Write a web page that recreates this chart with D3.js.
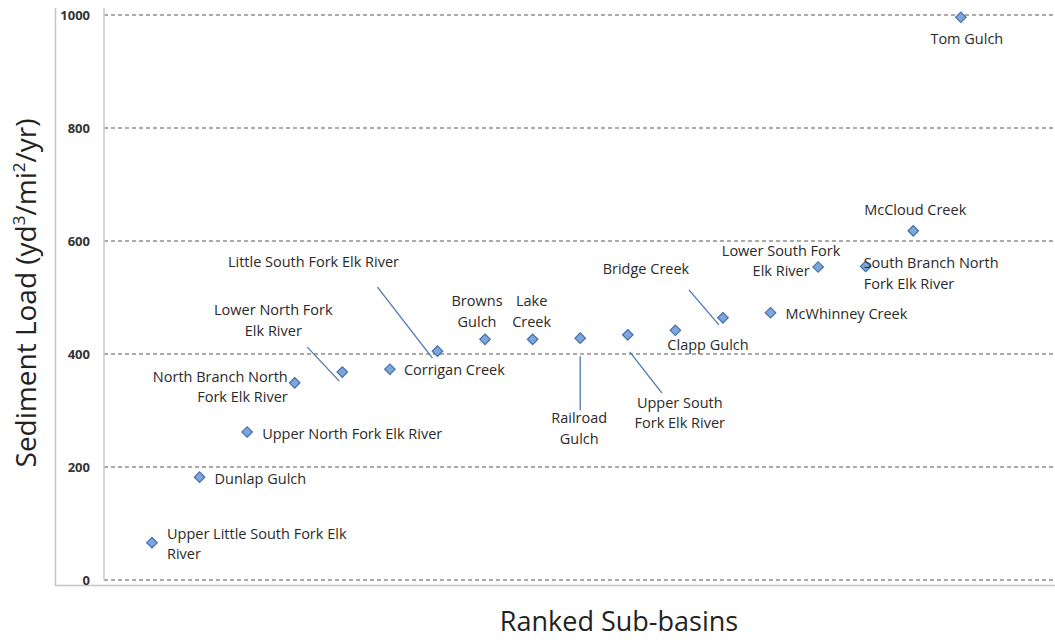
<!DOCTYPE html>
<html><head><meta charset="utf-8">
<script src="https://cdn.jsdelivr.net/npm/d3@7"></script>
<style>body{margin:0;background:#fff;} svg{display:block;}</style>
</head><body>
<svg id="chart" width="1055" height="641"></svg>
<script>
// ---- data ----
const subBasins = [
  "Upper Little South Fork Elk River", "Dunlap Gulch", "Upper North Fork Elk River",
  "North Branch North Fork Elk River", "Lower North Fork Elk River", "Corrigan Creek",
  "Little South Fork Elk River", "Browns Gulch", "Lake Creek", "Railroad Gulch",
  "Upper South Fork Elk River", "Clapp Gulch", "Bridge Creek", "McWhinney Creek",
  "Lower South Fork Elk River", "South Branch North Fork Elk River", "McCloud Creek", "Tom Gulch"
];
const ranks = [1,2,3,4,5,6,7,8,9,10,11,12,13,14,15,16,17,18];
const sedimentLoad = [66,182,262,349,368,373,405,426,426,428,434,442,464,473,554,555,618,996];
const labelLines = [
  ["Upper Little South Fork Elk","River"], ["Dunlap Gulch"], ["Upper North Fork Elk River"],
  ["North Branch North","Fork Elk River"], ["Lower North Fork","Elk River"], ["Corrigan Creek"],
  ["Little South Fork Elk River"], ["Browns","Gulch"], ["Lake","Creek"], ["Railroad","Gulch"],
  ["Upper South","Fork Elk River"], ["Clapp Gulch"], ["Bridge Creek"], ["McWhinney Creek"],
  ["Lower South Fork","Elk River"], ["South Branch North","Fork Elk River"], ["McCloud Creek"], ["Tom Gulch"]
];
const yTicks = [0,200,400,600,800,1000];

// ---- label layout (pixel offsets from the marker) ----
// [dx, dy of first line middle, anchor, leader line (x1,y1,x2,y2) or null]
const labelLayout = [
  [15,-10,"start",null],
  [15,1,"start",null],
  [15,1,"start",null],
  [-7,-7,"end",null],
  [-69,-63,"middle",[-35,-25,-3,9]],
  [14,0,"start",null],
  [-124,-90,"middle",[-60,-64,-5,7]],
  [-8,-39,"middle",null],
  [-1,-39,"middle",null],
  [-1,79,"middle",[0,18,0,72]],
  [52,67,"middle",[2,17,34,58]],
  [-8,14,"start",null],
  [-77,-50,"middle",[-34,-28,-4,7]],
  [15,0,"start",null],
  [-37,-17,"middle",null],
  [-2,-4,"start",null],
  [2,-22,"middle",null],
  [6,21,"middle",null]
];

const svg = d3.select("#chart");
const x = d3.scaleLinear().domain([0,20]).range([104.4,1056]);
const y = d3.scaleLinear().domain([0,1000]).range([580,15]);

// outer frame (left & bottom)
svg.append("line").attr("x1",55.5).attr("x2",55.5).attr("y1",8).attr("y2",586)
  .attr("stroke","#c4c4c4").attr("stroke-width",1.5);
svg.append("line").attr("x1",55).attr("x2",1055).attr("y1",585.5).attr("y2",585.5)
  .attr("stroke","#c4c4c4").attr("stroke-width",1.5);

// gridlines
svg.append("g").selectAll("line").data(yTicks).join("line")
  .attr("x1",104).attr("x2",1055)
  .attr("y1",d=>y(d)).attr("y2",d=>y(d))
  .attr("stroke","#8f8f8f").attr("stroke-width",1.4).attr("stroke-dasharray","4,3");

// y axis line
svg.append("line").attr("x1",104).attr("x2",104).attr("y1",8).attr("y2",580)
  .attr("stroke","#c8c8c8").attr("stroke-width",1.5);

// y tick labels via axis
const yAxis = d3.axisLeft(y).tickValues(yTicks).tickSize(0).tickPadding(0).tickFormat(d3.format("d"));
const gy = svg.append("g").attr("transform","translate(90,0)").call(yAxis);
gy.select(".domain").remove();
gy.selectAll("text").attr("font-family","'Open Sans', sans-serif").attr("font-size",13)
  .attr("font-weight",700).attr("fill","#333");

// leader lines
const pts = ranks.map((r,i)=>({r, v:sedimentLoad[i], lines:labelLines[i], lay:labelLayout[i]}));
svg.append("g").selectAll("line").data(pts.filter(p=>p.lay[3])).join("line")
  .attr("x1",p=>x(p.r)+p.lay[3][0]).attr("y1",p=>y(p.v)+p.lay[3][1])
  .attr("x2",p=>x(p.r)+p.lay[3][2]).attr("y2",p=>y(p.v)+p.lay[3][3])
  .attr("stroke","#4a78b4").attr("stroke-width",1.3);

// markers
svg.append("g").selectAll("path").data(pts).join("path")
  .attr("d", d3.symbol(d3.symbolSquare, 55))
  .attr("transform",p=>`translate(${x(p.r)},${y(p.v)}) rotate(45)`)
  .attr("fill","#7fa6d8").attr("stroke","#416fae").attr("stroke-width",1.2);

// labels
const lg = svg.append("g").attr("font-family","'Open Sans', sans-serif").attr("font-size",14.5).attr("fill","#2a2a2a");
pts.forEach(p=>{
  const t = lg.append("text")
    .attr("x", x(p.r)+p.lay[0]).attr("y", y(p.v)+p.lay[1])
    .attr("text-anchor", p.lay[2]).attr("dominant-baseline","central");
  p.lines.forEach((ln,j)=>{
    t.append("tspan").attr("x", x(p.r)+p.lay[0]).attr("dy", j===0?0:20.5).text(ln);
  });
});

// axis titles
svg.append("text").attr("x",619).attr("y",631).attr("text-anchor","middle")
  .attr("font-family","'Open Sans', sans-serif").attr("font-size",27).attr("fill","#222")
  .text("Ranked Sub-basins");
const yt = svg.append("text").attr("transform","translate(36,293) rotate(-90)").attr("text-anchor","middle")
  .attr("font-family","'Open Sans', sans-serif").attr("font-size",28).attr("fill","#222");
yt.append("tspan").text("Sediment Load (yd");
yt.append("tspan").attr("font-size",17).attr("dy",-11).text("3");
yt.append("tspan").attr("dy",11).text("/mi");
yt.append("tspan").attr("font-size",17).attr("dy",-11).text("2");
yt.append("tspan").attr("dy",11).text("/yr)");
</script>
</body></html>
